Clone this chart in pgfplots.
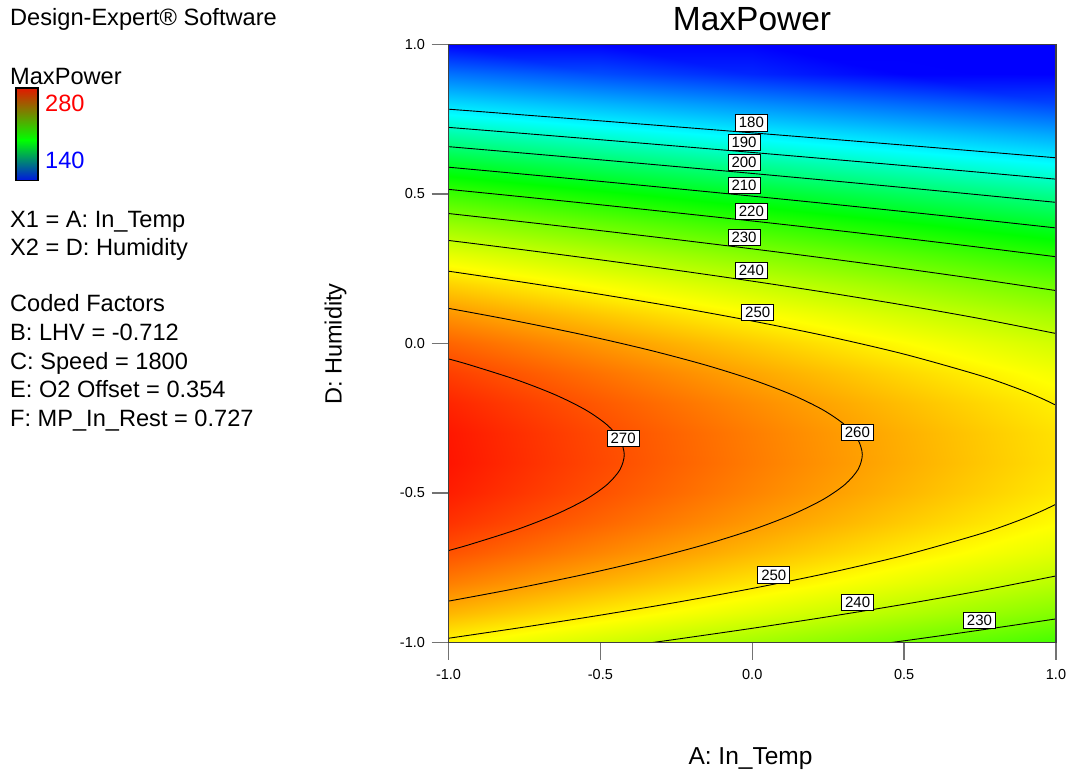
\documentclass[border=0pt]{standalone}
\usepackage{fontspec}
\setmainfont{Liberation Sans}
\usepackage{pgfplots}
\pgfplotsset{compat=1.18}
\definecolor{cbred}{RGB}{225,25,0}
\definecolor{cbgreen}{RGB}{0,255,0}
\definecolor{cbblue}{RGB}{0,20,225}
\definecolor{lblred}{RGB}{255,0,0}
\definecolor{lblblue}{RGB}{0,0,255}
\tikzset{lbl/.style={draw=black, line width=0.7pt, fill=white, inner xsep=3.5pt, inner ysep=2.8pt, font=\fontsize{15}{15}\selectfont},
  cl/.style={black, line width=0.9pt, smooth}}
\begin{document}
\begin{tikzpicture}[x=1pt,y=1pt]
\useasboundingbox (0,0) rectangle (1070,771);
\begin{axis}[
  at={(448.5pt,128.5pt)}, anchor=south west,
  width=607.5pt, height=598pt, scale only axis,
  xmin=-1, xmax=1, ymin=-1, ymax=1,
  xtick={-1,-0.5,0,0.5,1}, xticklabels={-1.0,-0.5,0.0,0.5,1.0},
  ytick={-1,-0.5,0,0.5,1}, yticklabels={-1.0,-0.5,0.0,0.5,1.0},
  tick align=outside, xtick pos=left, ytick pos=left,
  major tick length=17pt,
  major tick style={draw=black!55, line width=1.4pt},
  axis line style={draw=black!75, line width=1.6pt},
  tick label style={font=\fontsize{14.5}{16}\selectfont},
  xticklabel style={yshift=-6pt},
  yticklabel style={xshift=-3pt},
  colormap={de}{rgb255(140)=(0,0,255) rgb255(183)=(0,255,255) rgb255(214)=(0,255,0) rgb255(248)=(255,255,0) rgb255(280)=(255,0,0)},
  point meta min=140, point meta max=280,
  axis on top,
]
\addplot[surf, shader=interp, point meta=explicit] table[x=x, y=y, meta=f] {
x y f
-1 -1.0 248.71
-1 -0.9 257.15
-1 -0.8 264.13
-1 -0.7 269.65
-1 -0.6 273.71
-1 -0.5 276.30
-1 -0.4 277.44
-1 -0.3 277.12
-1 -0.2 275.34
-1 -0.1 272.10
-1 0.0 267.40
-1 0.1 261.24
-1 0.2 253.62
-1 0.3 244.53
-1 0.4 233.99
-1 0.5 221.99
-1 0.6 208.53
-1 0.7 193.61
-1 0.8 177.23
-1 0.9 159.39
-1 1.0 140.09

-0.5 -1.0 242.22
-0.5 -0.9 250.66
-0.5 -0.8 257.64
-0.5 -0.7 263.16
-0.5 -0.6 267.22
-0.5 -0.5 269.82
-0.5 -0.4 270.96
-0.5 -0.3 270.63
-0.5 -0.2 268.85
-0.5 -0.1 265.61
-0.5 0.0 260.91
-0.5 0.1 254.75
-0.5 0.2 247.13
-0.5 0.3 238.05
-0.5 0.4 227.51
-0.5 0.5 215.50
-0.5 0.6 202.04
-0.5 0.7 187.12
-0.5 0.8 170.74
-0.5 0.9 152.90
-0.5 1.0 133.60

0 -1.0 235.81
0 -0.9 244.25
0 -0.8 251.23
0 -0.7 256.75
0 -0.6 260.81
0 -0.5 263.40
0 -0.4 264.54
0 -0.3 264.22
0 -0.2 262.44
0 -0.1 259.20
0 0.0 254.50
0 0.1 248.34
0 0.2 240.72
0 0.3 231.63
0 0.4 221.09
0 0.5 209.09
0 0.6 195.63
0 0.7 180.71
0 0.8 164.33
0 0.9 146.49
0 1.0 127.19

0.5 -1.0 229.47
0.5 -0.9 237.91
0.5 -0.8 244.89
0.5 -0.7 250.41
0.5 -0.6 254.47
0.5 -0.5 257.07
0.5 -0.4 258.21
0.5 -0.3 257.88
0.5 -0.2 256.10
0.5 -0.1 252.86
0.5 0.0 248.16
0.5 0.1 242.00
0.5 0.2 234.38
0.5 0.3 225.30
0.5 0.4 214.76
0.5 0.5 202.75
0.5 0.6 189.29
0.5 0.7 174.37
0.5 0.8 157.99
0.5 0.9 140.15
0.5 1.0 120.85

1 -1.0 223.21
1 -0.9 231.65
1 -0.8 238.63
1 -0.7 244.15
1 -0.6 248.21
1 -0.5 250.80
1 -0.4 251.94
1 -0.3 251.62
1 -0.2 249.84
1 -0.1 246.60
1 0.0 241.90
1 0.1 235.74
1 0.2 228.12
1 0.3 219.03
1 0.4 208.49
1 0.5 196.49
1 0.6 183.03
1 0.7 168.11
1 0.8 151.73
1 0.9 133.89
1 1.0 114.59
};
% contour lines
\addplot[cl] coordinates {(-1,0.7837) (-0.75,0.7642) (-0.5,0.7446) (-0.25,0.7247) (0,0.7045) (0.25,0.6841) (0.5,0.6634) (0.75,0.6424) (1,0.6211)};
\addplot[cl] coordinates {(-1,0.7228) (-0.75,0.7023) (-0.5,0.6815) (-0.25,0.6603) (0,0.6389) (0.25,0.6171) (0.5,0.5950) (0.75,0.5725) (1,0.5496)};
\addplot[cl] coordinates {(-1,0.6583) (-0.75,0.6365) (-0.5,0.6143) (-0.25,0.5917) (0,0.5687) (0.25,0.5453) (0.5,0.5214) (0.75,0.4970) (1,0.4720)};
\addplot[cl] coordinates {(-1,0.5896) (-0.75,0.5661) (-0.5,0.5422) (-0.25,0.5178) (0,0.4928) (0.25,0.4673) (0.5,0.4411) (0.75,0.4142) (1,0.3865)};
\addplot[cl] coordinates {(-1,0.5155) (-0.75,0.4900) (-0.5,0.4639) (-0.25,0.4371) (0,0.4097) (0.25,0.3813) (0.5,0.3520) (0.75,0.3216) (1,0.2901)};
\addplot[cl] coordinates {(-1,0.4347) (-0.75,0.4065) (-0.5,0.3775) (-0.25,0.3476) (0,0.3165) (0.25,0.2841) (0.5,0.2503) (0.75,0.2146) (1,0.1770)};
\addplot[cl] coordinates {(0.4575,-1) (0.5,-0.9943) (0.625,-0.9767) (0.75,-0.9586) (0.875,-0.9401) (1,-0.921)};
\addplot[cl] coordinates {(-1,0.3447) (-0.75,0.3129) (-0.5,0.2798) (-0.25,0.2451) (0,0.2085) (0.25,0.1697) (0.5,0.1282) (0.75,0.0832) (1,0.0334)};
\addplot[cl] coordinates {(-0.328,-1) (-0.25,-0.9891) (0,-0.9525) (0.25,-0.9137) (0.5,-0.8722) (0.75,-0.8272) (1,-0.7774)};
\addplot[cl] coordinates {(-1,0.2418) (-0.75,0.2043) (-0.5,0.1645) (-0.25,0.1218) (0,0.0752) (0.25,0.0236) (0.5,-0.0356) (0.75,-0.1071) (0.875,-0.1512) (0.95,-0.1824) (1,-0.2065)};
\addplot[cl] coordinates {(-1,-0.9858) (-0.75,-0.9483) (-0.5,-0.9085) (-0.25,-0.8658) (0,-0.8192) (0.25,-0.7676) (0.5,-0.7084) (0.75,-0.6369) (0.875,-0.5928) (0.95,-0.5616) (1,-0.5375)};
\addplot[cl] coordinates {(-1,0.1176) (-0.7911,0.078) (-0.5517,0.028) (-0.3392,-0.022) (-0.1542,-0.072) (0.0029,-0.122) (0.1320,-0.172) (0.2326,-0.222) (0.3046,-0.272) (0.3479,-0.322) (0.3623,-0.372) (0.3479,-0.422) (0.3046,-0.472) (0.2326,-0.522) (0.1320,-0.572) (0.0029,-0.622) (-0.1542,-0.672) (-0.3392,-0.722) (-0.5517,-0.772) (-0.7911,-0.822) (-1,-0.8616)};
\addplot[cl] coordinates {(-1,-0.0515) (-0.9288,-0.072) (-0.7743,-0.122) (-0.6476,-0.172) (-0.5488,-0.222) (-0.4781,-0.272) (-0.4356,-0.322) (-0.4214,-0.372) (-0.4356,-0.422) (-0.4781,-0.472) (-0.5488,-0.522) (-0.6476,-0.572) (-0.7743,-0.622) (-0.9288,-0.672) (-1,-0.6925)};
% contour labels
\node[lbl] at (axis cs:-0.003,0.738) {180};
\node[lbl] at (axis cs:-0.027,0.673) {190};
\node[lbl] at (axis cs:-0.027,0.606) {200};
\node[lbl] at (axis cs:-0.027,0.530) {210};
\node[lbl] at (axis cs:-0.003,0.442) {220};
\node[lbl] at (axis cs:-0.027,0.355) {230};
\node[lbl] at (axis cs:-0.003,0.244) {240};
\node[lbl] at (axis cs:0.018,0.104) {250};
\node[lbl] at (axis cs:0.346,-0.298) {260};
\node[lbl] at (axis cs:-0.425,-0.316) {270};
\node[lbl] at (axis cs:0.071,-0.774) {250};
\node[lbl] at (axis cs:0.347,-0.866) {240};
\node[lbl] at (axis cs:0.748,-0.926) {230};
\end{axis}
% title and axis labels
\node[anchor=base, font=\fontsize{33.5}{36}\selectfont] at (752,740) {MaxPower};
\node[anchor=base, font=\fontsize{24.5}{28}\selectfont] at (750.5,6.7) {A: In\_Temp};
\node[anchor=base, rotate=90, font=\fontsize{23.5}{28}\selectfont] at (341.7,427) {D: Humidity};
% left panel
\begin{scope}[every node/.style={anchor=base west, inner sep=0pt, font=\fontsize{23.6}{27}\selectfont}]
\node at (10,745) {Design-Expert® Software};
\node at (10,686.7) {MaxPower};
\node[text=lblred] at (45,659.3) {280};
\node[text=lblblue] at (45,602.7) {140};
\node at (10,543.3) {X1 = A: In\_Temp};
\node at (10,515.5) {X2 = D: Humidity};
\node at (10,459.3) {Coded Factors};
\node at (10,430.3) {B: LHV = -0.712};
\node at (10,401.7) {C: Speed = 1800};
\node at (10,373.3) {E: O2 Offset = 0.354};
\node at (10,344.3) {F: MP\_In\_Rest = 0.727};
\end{scope}
\shade[top color=cbred, bottom color=cbgreen] (16,631) rectangle (37.7,682.7);
\shade[top color=cbgreen, bottom color=cbblue] (16,590.3) rectangle (37.7,631);
\draw[line width=1.6pt] (16,590.3) rectangle (37.7,682.7);
\end{tikzpicture}
\end{document}
